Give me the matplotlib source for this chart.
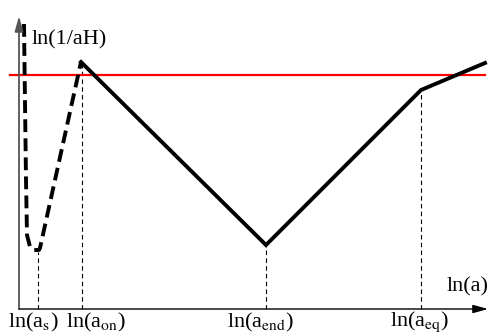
import matplotlib
matplotlib.use('Agg')
import matplotlib.pyplot as plt
import numpy as np

plt.rcParams['font.family'] = ['Liberation Serif', 'DejaVu Serif']
plt.rcParams['mathtext.fontset'] = 'stix'

# pre-inflation branch (dashed)
x_pre = [0.5, 0.7, 0.8, 1.1, 1.5, 2.0, 2.1, 6.2]
y_pre = [28.5, 12.9, 7.4, 6.2, 5.9, 5.9, 6.1, 24.7]

# main history (solid)
x_main = [6.2, 24.7, 40.2, 46.6]
y_main = [24.7, 6.4, 21.9, 24.6]

# horizontal reference level
y_ref = 23.4
x_ref = [-0.9, 46.6]

# special times and where the dashed guides stop
x_marks = [1.9, 6.3, 24.7, 40.2]
y_marks = [5.7, 24.7, 6.4, 21.7]
tick_labels = [r'ln(a$_{\mathrm{s}}$)', r'ln(a$_{\mathrm{on}}$)',
               r'ln(a$_{\mathrm{end}}$)', r'ln(a$_{\mathrm{eq}}$)']
label_x = [1.4, 7.7, 24.1, 40.1]

fig = plt.figure(figsize=(4.9, 3.33), dpi=100)
ax = fig.add_axes([0, 0, 1, 1])
ax.set_xlim(-1.9, 47.1)
ax.set_ylim(-2.4, 30.9)
ax.axis('off')

# axes with arrows
ax.annotate('', xy=(0, 29.3), xytext=(0, 0),
            arrowprops=dict(arrowstyle='-|>,head_length=0.9,head_width=0.25', color='#555555', lw=1.3,
                            shrinkA=0, shrinkB=0))
ax.annotate('', xy=(46.9, 0), xytext=(0, 0),
            arrowprops=dict(arrowstyle='-|>,head_length=0.9,head_width=0.25', color='black', lw=1.0,
                            shrinkA=0, shrinkB=0))

# dashed guides
for xm, ym in zip(x_marks, y_marks):
    ax.plot([xm, xm], [0, ym], color='black', lw=0.8, dashes=(4, 3))

ax.plot(x_ref, [y_ref, y_ref], color='red', lw=1.6)

line, = ax.plot(x_pre, y_pre, color='black', lw=2.8, solid_capstyle='butt')
line.set_dashes((3.3, 1.6))
ax.plot(x_main, y_main, color='black', lw=2.8, solid_joinstyle='miter')

ax.text(1.3, 26.9, 'ln(1/aH)', fontsize=16, va='center', ha='left')
ax.text(42.8, 2.2, 'ln(a)', fontsize=16, va='center', ha='left')
for lx, lab in zip(label_x, tick_labels):
    ax.text(lx, -1.3, lab, fontsize=16, va='center', ha='center')

fig.savefig('out.png', dpi=100)
